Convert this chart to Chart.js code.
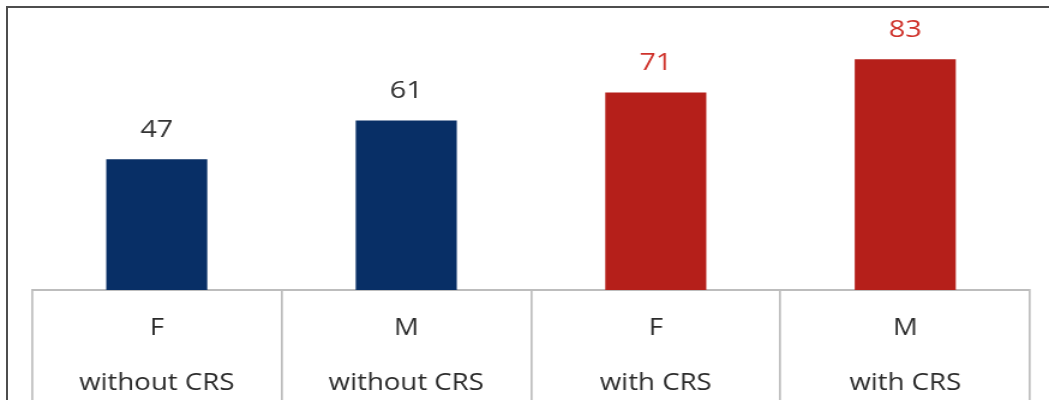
<!DOCTYPE html>
<html>
<head>
<meta charset="utf-8">
<script src="https://cdn.jsdelivr.net/npm/chart.js@4/dist/chart.umd.min.js"></script>
<style>
  html, body { margin: 0; padding: 0; background: #fff; overflow: hidden; }
  .wrap { position: relative; width: 1049px; height: 400px; }
  .frame {
    position: absolute; left: 6px; top: 6px; right: -10px; bottom: -10px;
    border-top: 2px solid #4d4d4d; border-left: 2px solid #4d4d4d;
    pointer-events: none;
  }
</style>
</head>
<body>
<div class="wrap">
  <!-- laid out narrower and widened by css, so the lettering comes out broad -->
  <canvas id="chart" width="874" height="400" style="display:block;width:1049px;height:400px"></canvas>
  <div class="frame"></div>
</div>
<script>
// groups shown in the table under the bars
const sexes = ['F', 'M', 'F', 'M']
const groups = ['without CRS', 'without CRS', 'with CRS', 'with CRS']
const values = [47, 61, 71, 83]
const barColors = ['#082f66', '#082f66', '#b51f1a', '#b51f1a']
const valueColors = ['#333333', '#333333', '#cf322b', '#cf322b']

const labels = sexes.map((s, i) => [s, groups[i]])

const stretch = 1049 / 874

// value numbers above each bar
const valueLabels = {
  id: 'valueLabels',
  afterDatasetsDraw(chart) {
    const ctx = chart.ctx
    const meta = chart.getDatasetMeta(0)
    ctx.save()
    ctx.font = '24px "Open Sans", sans-serif'
    ctx.textAlign = 'center'
    ctx.textBaseline = 'middle'
    meta.data.forEach((bar, i) => {
      ctx.fillStyle = valueColors[i]
      ctx.fillText(values[i], bar.x, bar.y - 29)
    })
    ctx.restore()
  }
}

const chart = new Chart(document.getElementById('chart'), {
  type: 'bar',
  data: {
    labels: labels,
    datasets: [{
      data: values,
      backgroundColor: barColors,
      borderWidth: 0,
      categoryPercentage: 1,
      barPercentage: 0.405
    }]
  },
  options: {
    responsive: false,
    devicePixelRatio: 1,
    animation: false,
    layout: { padding: { left: 32 / stretch, right: 19 / stretch, top: 12, bottom: 0 } },
    plugins: {
      legend: { display: false },
      tooltip: { enabled: false }
    },
    scales: {
      y: { display: false, min: 0, max: 100 },
      x: {
        afterFit(scale) { scale.height = 110 },
        border: { display: true, color: '#bdbdbd', width: 2 },
        grid: {
          offset: true,
          drawOnChartArea: false,
          drawTicks: true,
          tickLength: 110,
          color: '#bdbdbd',
          lineWidth: 1.7
        },
        ticks: {
          padding: -99.5,
          color: '#2b2b2b',
          font: { family: '"Open Sans", sans-serif', size: 23, lineHeight: 2.4 }
        }
      }
    }
  },
  plugins: [valueLabels]
})
</script>
</body>
</html>
